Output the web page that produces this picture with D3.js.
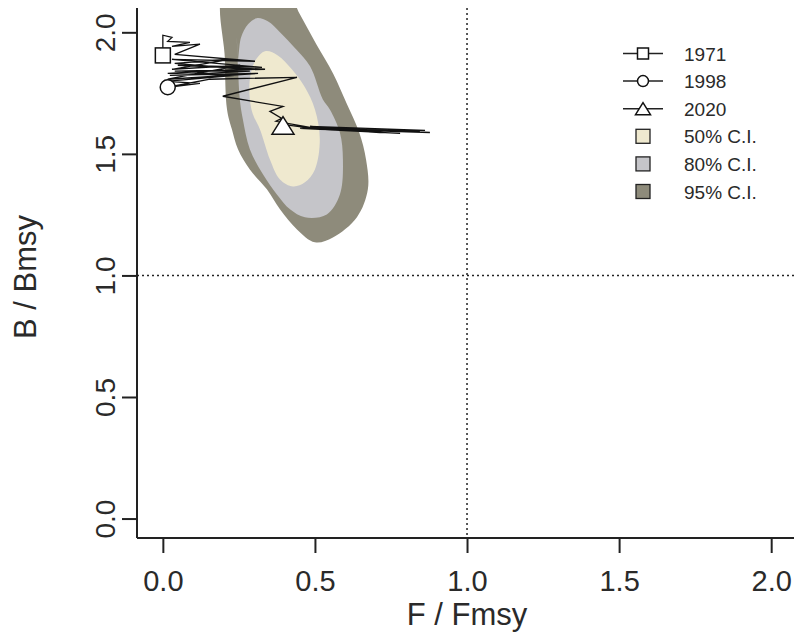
<!DOCTYPE html>
<html>
<head>
<meta charset="utf-8">
<script src="https://cdn.jsdelivr.net/npm/d3@7"></script>
<style>
  html, body { margin: 0; padding: 0; background: #fff; }
  svg { display: block; }
  text { font-family: "Liberation Sans", Arial, sans-serif; fill: #2a2a2a; }
</style>
</head>
<body>
<svg id="chart" width="794" height="633"></svg>
<script>
// ---------- DATA ----------
const years = d3.range(1971, 2021);
const trajF = [0.000,0.000,0.030,0.016,0.089,0.030,0.122,0.039,0.303,0.030,
               0.326,0.049,0.336,0.039,0.286,0.023,0.313,0.016,0.253,0.030,
               0.220,0.039,0.270,0.016,0.237,0.010,0.122,0.016,0.155,0.441,
               0.197,0.395,0.352,0.391,0.372,0.484,0.878,0.549,0.845,0.451,
               0.780,0.582,0.862,0.484,0.714,0.451,0.812,0.516,0.418,0.395];
const trajB = [1.905,1.988,1.979,1.963,1.959,1.942,1.951,1.909,1.881,1.889,
               1.856,1.864,1.848,1.840,1.840,1.823,1.831,1.807,1.864,1.848,
               1.889,1.872,1.848,1.831,1.823,1.798,1.790,1.774,1.807,1.815,
               1.737,1.695,1.675,1.646,1.634,1.609,1.588,1.601,1.593,1.605,
               1.584,1.597,1.597,1.613,1.588,1.609,1.593,1.601,1.617,1.617];
const markedYears = [1971, 1998, 2020];
const markerShapes = ["square", "circle", "triangle"];

// confidence region outlines (F/Fmsy, B/Bmsy)
const ci95F = [0.204,0.204,0.211,0.227,0.247,0.286,0.342,0.385,0.441,0.500,0.559,0.638,0.674,0.668,0.645,0.605,0.560,0.505,0.450,0.395];
const ci95B = [2.177,1.889,1.683,1.601,1.519,1.436,1.354,1.272,1.189,1.136,1.156,1.239,1.354,1.477,1.590,1.705,1.830,1.950,2.075,2.198];
const ci80F = [0.243,0.247,0.253,0.263,0.286,0.329,0.375,0.418,0.467,0.539,0.582,0.592,0.582,0.549,0.526,0.484,0.438,0.385,0.345,0.309,0.280,0.257,0.247];
const ci80B = [2.000,1.860,1.724,1.642,1.519,1.416,1.333,1.272,1.239,1.251,1.333,1.477,1.588,1.683,1.724,1.860,1.930,2.000,2.045,2.058,2.033,1.979,1.889];
const ci50F = [0.286,0.286,0.303,0.336,0.378,0.424,0.467,0.500,0.516,0.500,0.467,0.428,0.385,0.352,0.319,0.296];
const ci50B = [1.724,1.807,1.881,1.922,1.905,1.848,1.774,1.683,1.560,1.436,1.383,1.366,1.395,1.477,1.601,1.663];

const ciLabels = ["50% C.I.", "80% C.I.", "95% C.I."];
const ciColors = ["#efe9cf", "#c5c5c9", "#8e8b7b"];

const xTicks = [0.0, 0.5, 1.0, 1.5, 2.0];
const yTicks = [0.0, 0.5, 1.0, 1.5, 2.0];
const xTitle = "F / Fmsy";
const yTitle = "B / Bmsy";

// ---------- LAYOUT ----------
const svg = d3.select("#chart");
const L = 137, R = 794, T = 8, B = 538;
const x = d3.scaleLinear().domain([-0.085, 2.075]).range([L, R]);
const y = d3.scaleLinear().domain([-0.08, 2.10]).range([B, T]);

svg.append("defs").append("clipPath").attr("id", "plotclip")
  .append("rect").attr("x", L).attr("y", T).attr("width", R - L).attr("height", B - T);

const plot = svg.append("g").attr("clip-path", "url(#plotclip)");

// CI regions
const area = d3.line().x(d => x(d[0])).y(d => y(d[1])).curve(d3.curveCatmullRomClosed.alpha(0.5));
const regions = [
  {F: ci95F, B: ci95B, c: ciColors[2]},
  {F: ci80F, B: ci80B, c: ciColors[1]},
  {F: ci50F, B: ci50B, c: ciColors[0]}
];
regions.forEach(r => {
  plot.append("path").attr("d", area(r.F.map((f, i) => [f, r.B[i]])))
    .attr("fill", r.c).attr("stroke", "none");
});

// reference lines
plot.append("line").attr("x1", x(1)).attr("x2", x(1)).attr("y1", T).attr("y2", B)
  .attr("stroke", "#222").attr("stroke-width", 1.5).attr("stroke-dasharray", "2,3");
plot.append("line").attr("x1", L).attr("x2", R).attr("y1", y(1)).attr("y2", y(1))
  .attr("stroke", "#222").attr("stroke-width", 1.5).attr("stroke-dasharray", "2,3");

// trajectory
const pts = trajF.map((f, i) => ({f, b: trajB[i], yr: years[i]}));
plot.append("path").datum(pts)
  .attr("d", d3.line().x(d => x(d.f)).y(d => y(d.b)))
  .attr("fill", "none").attr("stroke", "#111").attr("stroke-width", 1.3)
  .attr("stroke-linejoin", "miter");

function marker(g, shape, cx, cy, s) {
  if (shape === "square") {
    g.append("rect").attr("x", cx - s / 2).attr("y", cy - s / 2).attr("width", s).attr("height", s)
      .attr("fill", "#fff").attr("stroke", "#111").attr("stroke-width", 1.5);
  } else if (shape === "circle") {
    g.append("circle").attr("cx", cx).attr("cy", cy).attr("r", s / 2)
      .attr("fill", "#fff").attr("stroke", "#111").attr("stroke-width", 1.5);
  } else {
    const h = s * 0.8;
    g.append("path").attr("d", `M${cx - s / 2},${cy + h / 2}L${cx + s / 2},${cy + h / 2}L${cx},${cy - h / 2}Z`)
      .attr("fill", "#fff").attr("stroke", "#111").attr("stroke-width", 1.5);
  }
}
const markerSizes = [15, 15, 22];
markedYears.forEach((yr, i) => {
  const p = pts.find(d => d.yr === yr);
  marker(plot, markerShapes[i], x(p.f), y(p.b), markerSizes[i]);
});

// axes lines (bty = "l")
svg.append("line").attr("x1", L).attr("x2", L).attr("y1", T).attr("y2", B)
  .attr("stroke", "#222").attr("stroke-width", 2);
svg.append("line").attr("x1", L).attr("x2", R).attr("y1", B).attr("y2", B)
  .attr("stroke", "#222").attr("stroke-width", 2);

// x axis
const xAxis = svg.append("g").attr("transform", `translate(0,${B})`)
  .call(d3.axisBottom(x).tickValues(xTicks).tickFormat(d3.format(".1f")).tickSize(15));
xAxis.select(".domain").remove();
xAxis.selectAll("line").attr("stroke", "#222").attr("stroke-width", 2);
xAxis.selectAll("text").attr("font-size", 29).attr("fill", "#2a2a2a")
  .attr("font-family", "'Liberation Sans', Arial, sans-serif")
  .attr("y", 591 - B).attr("dy", 0);

// y axis
const yAxis = svg.append("g").attr("transform", `translate(${L},0)`)
  .call(d3.axisLeft(y).tickValues(yTicks).tickFormat(d3.format(".1f")).tickSize(15));
yAxis.select(".domain").remove();
yAxis.selectAll("line").attr("stroke", "#222").attr("stroke-width", 2);
yAxis.selectAll("text")
  .attr("font-size", 28).attr("fill", "#2a2a2a")
  .attr("font-family", "'Liberation Sans', Arial, sans-serif")
  .attr("text-anchor", "middle").attr("dy", 0).attr("x", 0).attr("y", 0)
  .attr("transform", "translate(-22,0) rotate(-90)");

// titles
svg.append("text").attr("x", x(1)).attr("y", 625).attr("text-anchor", "middle")
  .attr("font-size", 31).text(xTitle);
svg.append("text").attr("transform", `translate(36,${(T + B) / 2 + 4}) rotate(-90)`)
  .attr("text-anchor", "middle").attr("font-size", 31).text(yTitle);

// legend
const lg = svg.append("g");
const lx = 643, ltx = 684, ly0 = 53.5, ldy = 27.6;
markedYears.forEach((yr, i) => {
  const cy = ly0 + i * ldy;
  lg.append("line").attr("x1", lx - 20).attr("x2", lx + 20).attr("y1", cy).attr("y2", cy)
    .attr("stroke", "#222").attr("stroke-width", 1.5);
  marker(lg, markerShapes[i], lx, cy, i === 2 ? 15 : 11);
  lg.append("text").attr("x", ltx).attr("y", cy + 7).attr("font-size", 19).text(yr);
});
ciLabels.forEach((lab, i) => {
  const cy = ly0 + (i + 3) * ldy;
  lg.append("rect").attr("x", lx - 7).attr("y", cy - 7).attr("width", 14).attr("height", 14)
    .attr("fill", ciColors[i]).attr("stroke", "#222").attr("stroke-width", 1.3);
  lg.append("text").attr("x", ltx).attr("y", cy + 7).attr("font-size", 19).text(lab);
});
</script>
</body>
</html>
